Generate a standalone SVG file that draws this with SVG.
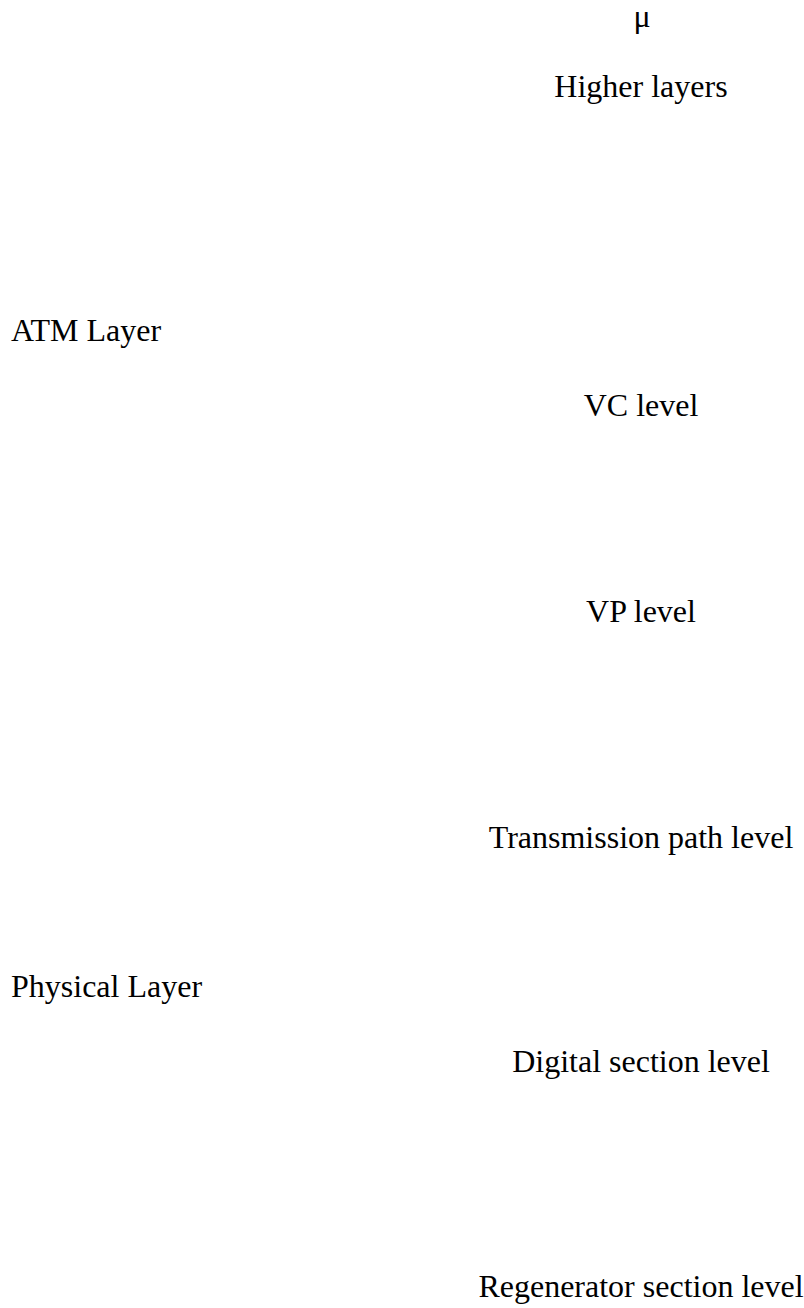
<svg xmlns="http://www.w3.org/2000/svg" width="804" height="1308" viewBox="0 0 804 1308">
<style>
text{font-family:"Liberation Serif","Times New Roman",serif;font-size:32px;fill:#000}
.c{text-anchor:middle}
</style>
<rect width="804" height="1308" fill="#fff"/>
<g id="mu"><text class="c" x="642" y="27">μ</text></g>
<g id="higher-layers"><text class="c" x="641" y="97">Higher layers</text></g>
<g id="atm-layer"><text x="11" y="341">ATM Layer</text></g>
<g id="vc-level"><text class="c" x="641" y="416">VC level</text></g>
<g id="vp-level"><text class="c" x="641" y="622">VP level</text></g>
<g id="transmission-path-level"><text class="c" x="641" y="848">Transmission path level</text></g>
<g id="physical-layer"><text x="11" y="997">Physical Layer</text></g>
<g id="digital-section-level"><text class="c" x="641" y="1072">Digital section level</text></g>
<g id="regenerator-section-level"><text class="c" x="641" y="1297">Regenerator section level</text></g>
<g id="connectors"></g>
</svg>
